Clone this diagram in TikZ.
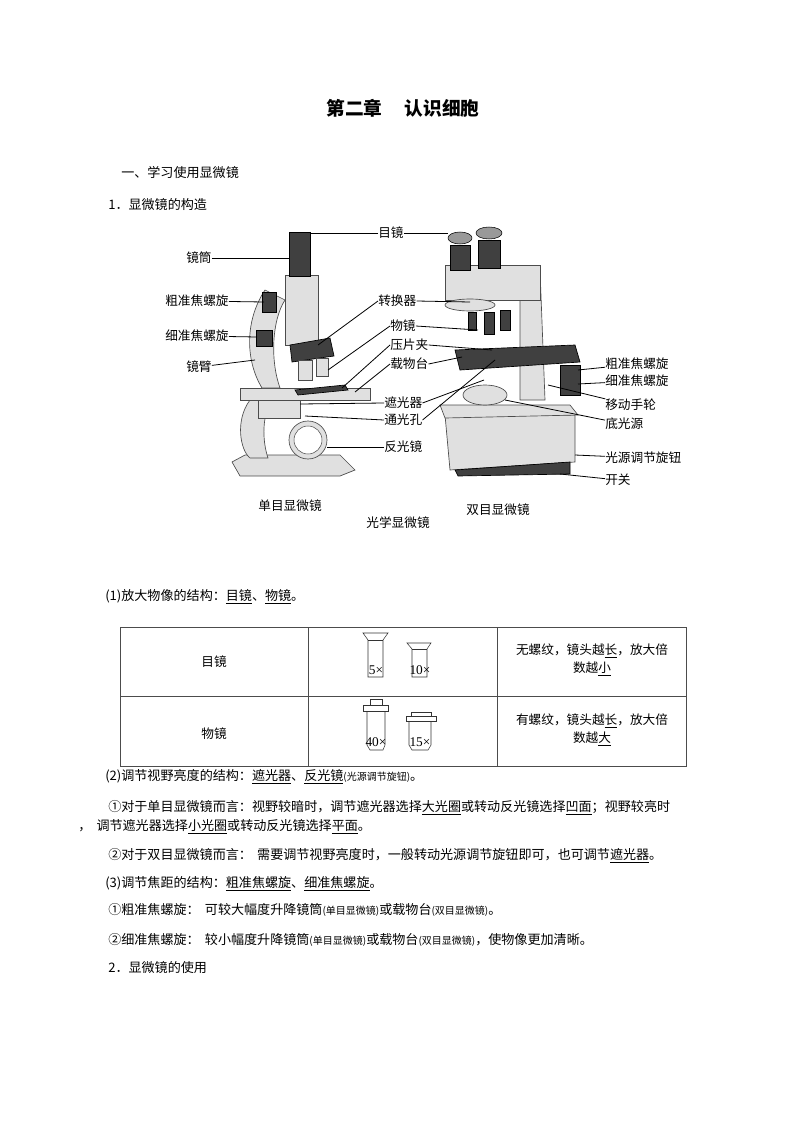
\documentclass[tikz,border=0pt]{standalone}
\usepackage{fontspec}
\setmainfont{Liberation Serif}
\newfontfamily\cjk{Noto Sans CJK SC}
\newcommand\myul[1]{\underline{#1}}
\begin{document}
\begin{tikzpicture}[x=0.75pt,y=-0.75pt,
  txt/.style={anchor=west,inner sep=0,font=\cjk\fontsize{9.8}{11}\selectfont},
  lab/.style={anchor=west,inner sep=0,font=\cjk\fontsize{9.5}{11}\selectfont},
  lead/.style={black,line width=0.6pt},
  part/.style={draw=black!70,fill=black!12,line width=0.5pt},
  dark/.style={draw=black,fill=black!75,line width=0.5pt},
  mag/.style={inner sep=0,font=\fontsize{10}{11}\selectfont},
  cell/.style={font=\cjk\fontsize{9.5}{13}\selectfont,align=center}]
\useasboundingbox (0,0) rectangle (794,1123);
\node[inner sep=0,font=\cjk\bfseries\fontsize{14}{16}\selectfont] (title) at (403,108) {第二章\hspace{1.2em}认识细胞};
\node[txt] (s1) at (121,173) {一、学习使用显微镜};
\node[txt] (s2) at (108,205) {1．显微镜的构造};
% ---- left microscope ----
\draw[part] (232,462) -- (245,455) -- (340,455) -- (355,470) -- (340,476) -- (240,476) -- cycle;
\draw[part] (250,400) .. controls (235,420) and (240,450) .. (250,458) -- (268,458) .. controls (262,440) and (262,415) .. (272,400) -- cycle;
\draw[part] (240,388) -- (370,388) -- (370,400) -- (240,400) -- cycle;
\draw[part] (258,400) rectangle (300,418);
\draw[part] (265,290) .. controls (245,320) and (245,360) .. (262,388) -- (280,388) .. controls (270,360) and (272,320) .. (285,300) -- cycle;
\draw[part] (285,275) rectangle (318,345);
\draw[dark] (289,232) rectangle (310,276);
\draw[dark] (262,292) rectangle (276,312);
\draw[dark] (256,330) rectangle (272,346);
\draw[dark] (290,345) -- (330,338) -- (334,356) -- (292,362) -- cycle;
\draw[part] (298,360) rectangle (312,380);
\draw[part] (316,358) rectangle (328,376);
\draw[dark] (295,390) -- (345,385) -- (348,390) -- (298,395) -- cycle;
\draw[part] (308,440) circle[radius=19];
\draw[draw=black!70,fill=white] (308,440) circle[radius=14];
% ---- right microscope ----
\draw[part] (445,415) -- (575,415) -- (575,462) -- (450,470) -- cycle;
\draw[part] (440,405) -- (570,405) -- (578,415) -- (445,418) -- cycle;
\draw[dark] (455,470) -- (570,462) -- (570,474) -- (458,476) -- cycle;
\draw[part] (485,395) ellipse[x radius=22,y radius=10];
\draw[part] (520,270) -- (540,270) -- (545,400) -- (520,400) -- cycle;
\draw[dark] (455,350) -- (575,345) -- (580,362) -- (460,370) -- cycle;
\draw[part] (445,265) -- (540,265) -- (540,300) -- (445,300) -- cycle;
\draw[dark] (450,245) rectangle (470,270);
\draw[dark] (478,240) rectangle (500,268);
\draw[draw=black,fill=black!40] (460,238) ellipse[x radius=12,y radius=6];
\draw[draw=black,fill=black!40] (489,233) ellipse[x radius=13,y radius=6];
\draw[part] (470,305) ellipse[x radius=25,y radius=6];
\draw[dark] (468,312) rectangle (476,330);
\draw[dark] (484,312) rectangle (494,334);
\draw[dark] (500,310) rectangle (510,330);
\draw[dark] (560,365) rectangle (580,395);
% ---- labels left ----
\node[lab] (l1) at (186,258) {镜筒};
\node[lab] (l2) at (165,301) {粗准焦螺旋};
\node[lab] (l3) at (165,336) {细准焦螺旋};
\node[lab] (l4) at (186,367) {镜臂};
\coordinate (e1) at (289,258); \coordinate (e2) at (264,302);
\coordinate (e3) at (257,337); \coordinate (e4) at (255,360);
\draw[lead] (l1) -- (e1); \draw[lead] (l2) -- (e2); \draw[lead] (l3) -- (e3); \draw[lead] (l4) -- (e4);
% ---- labels middle ----
\node[lab] (m1) at (378,233) {目镜};
\node[lab] (m2) at (378,301) {转换器};
\node[lab] (m3) at (390,326) {物镜};
\node[lab] (m4) at (390,345) {压片夹};
\node[lab] (m5) at (390,364) {载物台};
\node[lab] (m6) at (384,403) {遮光器};
\node[lab] (m7) at (384,420) {通光孔};
\node[lab] (m8) at (384,447) {反光镜};
\coordinate (f1) at (310,233); \coordinate (f1b) at (448,233);
\coordinate (f2) at (318,345); \coordinate (f2b) at (470,302);
\coordinate (f3) at (328,370); \coordinate (f3b) at (478,330);
\coordinate (f4) at (342,388); \coordinate (f4b) at (492,350);
\coordinate (f5) at (355,392); \coordinate (f5b) at (462,357);
\coordinate (f6) at (300,404); \coordinate (f6b) at (484,380);
\coordinate (f7) at (305,416); \coordinate (f7b) at (495,360);
\coordinate (f8) at (327,447);
\draw[lead] (m1.west) -- (f1); \draw[lead] (m1.east) -- (f1b);
\draw[lead] (m2.west) -- (f2); \draw[lead] (m2.east) -- (f2b);
\draw[lead] (m3.west) -- (f3); \draw[lead] (m3.east) -- (f3b);
\draw[lead] (m4.west) -- (f4); \draw[lead] (m4.east) -- (f4b);
\draw[lead] (m5.west) -- (f5); \draw[lead] (m5.east) -- (f5b);
\draw[lead] (m6.west) -- (f6); \draw[lead] (m6.east) -- (f6b);
\draw[lead] (m7.west) -- (f7); \draw[lead] (m7.east) -- (f7b);
\draw[lead] (m8.west) -- (f8);
% ---- labels right ----
\node[lab] (r1) at (605,364) {粗准焦螺旋};
\node[lab] (r2) at (605,381) {细准焦螺旋};
\node[lab] (r3) at (605,405) {移动手轮};
\node[lab] (r4) at (605,424) {底光源};
\node[lab] (r5) at (605,458) {光源调节旋钮};
\node[lab] (r6) at (605,480) {开关};
\coordinate (g1) at (578,370); \coordinate (g2) at (578,384);
\coordinate (g3) at (548,385); \coordinate (g4) at (505,400);
\coordinate (g5) at (575,455); \coordinate (g6) at (560,474);
\draw[lead] (r1) -- (g1); \draw[lead] (r2) -- (g2); \draw[lead] (r3) -- (g3);
\draw[lead] (r4) -- (g4); \draw[lead] (r5) -- (g5); \draw[lead] (r6) -- (g6);
\node[lab,anchor=center] (c1) at (290,506) {单目显微镜};
\node[lab,anchor=center] (c2) at (398,523) {光学显微镜};
\node[lab,anchor=center] (c3) at (498,510) {双目显微镜};
% ---- text ----
\node[txt] (p1) at (105,597) {(1)放大物像的结构：\myul{目镜}、\myul{物镜}。};
\draw[black!70,line width=0.6pt] (120,627) rectangle (686,766);
\draw[black!70,line width=0.6pt] (120,696) -- (686,696);
\draw[black!70,line width=0.6pt] (308,627) -- (308,766);
\draw[black!70,line width=0.6pt] (497,627) -- (497,766);
\node[cell] (t1) at (214,662) {目镜};
\node[cell] (t2) at (214,734) {物镜};
\node[cell] (t3) at (592,660) {无螺纹，镜头越\myul{长}，放大倍\\数越\myul{小}};
\node[cell] (t4) at (592,730) {有螺纹，镜头越\myul{长}，放大倍\\数越\myul{大}};
\draw[black!80] (363,633) -- (388,633) -- (383,640) -- (383,677) -- (368,677) -- (368,640) -- cycle;
\draw[black!80] (368,640) -- (383,640);
\node[mag] (n5) at (376,670) {5×};
\draw[black!80] (407,643) -- (431,643) -- (427,649) -- (427,677) -- (412,677) -- (412,649) -- cycle;
\draw[black!80] (412,649) -- (427,649);
\node[mag] (n10) at (420,670) {10×};
\draw[black!80] (363,705) rectangle (388,711);
\draw[black!80] (370,699) rectangle (382,705);
\draw[black!80] (367,711) -- (367,745) -- (370,750) -- (383,750) -- (385,745) -- (385,711);
\node[mag] (n40) at (376,742) {40×};
\draw[black!80] (406,716) rectangle (436,721);
\draw[black!80] (411,712) rectangle (431,716);
\draw[black!80] (409,721) -- (409,745) -- (412,750) -- (428,750) -- (431,745) -- (431,721);
\node[mag] (n15) at (420,742) {15×};
\node[txt] (p2) at (105,777) {(2)调节视野亮度的结构：\myul{遮光器}、\myul{反光镜}{\fontsize{7.5}{9}\selectfont (光源调节旋钮)}。};
\node[txt] (p3) at (108,808) {①对于单目显微镜而言：视野较暗时，调节遮光器选择\myul{大光圈}或转动反光镜选择\myul{凹面}；视野较亮时};
\node[txt] (p4) at (78,827) {，\hspace{0.4em}调节遮光器选择\myul{小光圈}或转动反光镜选择\myul{平面}。};
\node[txt] (p5) at (108,856) {②对于双目显微镜而言：\hspace{0.4em}需要调节视野亮度时，一般转动光源调节旋钮即可，也可调节\myul{遮光器}。};
\node[txt] (p6) at (105,884) {(3)调节焦距的结构：\myul{粗准焦螺旋}、\myul{细准焦螺旋}。};
\node[txt] (p7) at (108,910) {①粗准焦螺旋：\hspace{0.4em}可较大幅度升降镜筒{\fontsize{7.5}{9}\selectfont (单目显微镜)}或载物台{\fontsize{7.5}{9}\selectfont (双目显微镜)}。};
\node[txt] (p8) at (108,940) {②细准焦螺旋：\hspace{0.4em}较小幅度升降镜筒{\fontsize{7.5}{9}\selectfont (单目显微镜)}或载物台{\fontsize{7.5}{9}\selectfont (双目显微镜)}，使物像更加清晰。};
\node[txt] (s3) at (108,968) {2．显微镜的使用};
\end{tikzpicture}
\end{document}
